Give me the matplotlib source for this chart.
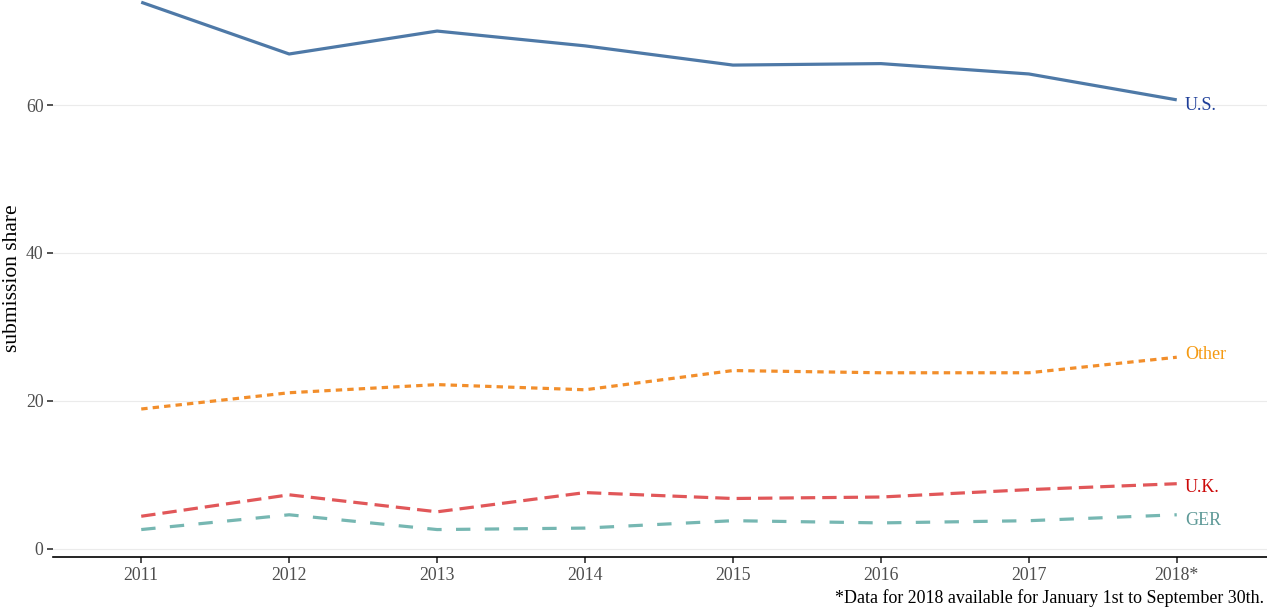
import matplotlib.pyplot as plt

plt.rcParams['font.family'] = ['Liberation Serif', 'DejaVu Serif']

years = [2011, 2012, 2013, 2014, 2015, 2016, 2017, 2018]
year_labels = ['2011', '2012', '2013', '2014', '2015', '2016', '2017', '2018*']

us = [73.9, 66.9, 70.0, 68.0, 65.4, 65.6, 64.2, 60.7]
other = [18.9, 21.1, 22.2, 21.5, 24.1, 23.8, 23.8, 25.9]
uk = [4.4, 7.3, 5.0, 7.6, 6.8, 7.0, 8.0, 8.8]
ger = [2.6, 4.6, 2.6, 2.8, 3.8, 3.5, 3.8, 4.6]

# name, values, line colour, label colour, dash, label nudge (points)
series = [
    ('U.S.', us, '#4e79a7', '#1f3f99', '-', -4),
    ('Other', other, '#f28e2b', '#f59a12', (0, (2.0, 1.6)), 2),
    ('U.K.', uk, '#e15759', '#cc0a0a', (0, (4.5, 2.2)), -3),
    ('GER', ger, '#76b7b2', '#5f9a98', (0, (4.5, 4.5)), -4),
]

fig = plt.figure(figsize=(12.67, 6.10), dpi=100)
ax = fig.add_axes([0.042, 0.087, 0.958, 0.913])

for name, vals, col, lab_col, ls, dy in series:
    ax.plot(years, vals, color=col, lw=2.3, linestyle=ls, solid_capstyle='butt')
    ax.annotate(name, (years[-1], vals[-1]), xytext=(6, dy), textcoords='offset points',
                color=lab_col, fontsize=13, va='center', ha='left')

ax.set_xlim(2010.405, 2018.61)
ax.set_ylim(-1.1, 74.2)
ax.set_yticks([0, 20, 40, 60])
ax.set_xticks(years)
ax.set_xticklabels(year_labels)
ax.grid(axis='y', color='#ebebeb', lw=0.8)
ax.set_axisbelow(True)

for s in ['top', 'right', 'left']:
    ax.spines[s].set_visible(False)
ax.spines['bottom'].set_linewidth(1.2)
ax.tick_params(axis='both', labelsize=12.8, labelcolor='#4d4d4d', length=4, width=1.2, color='#333333')
ax.tick_params(axis='x', pad=3)
ax.tick_params(axis='y', pad=3)
ax.set_ylabel('submission share', fontsize=15.5, labelpad=3)

fig.text(0.998, 0.005, '*Data for 2018 available for January 1st to September 30th.',
         ha='right', va='bottom', fontsize=12.9)

fig.savefig('out.png', dpi=100)
